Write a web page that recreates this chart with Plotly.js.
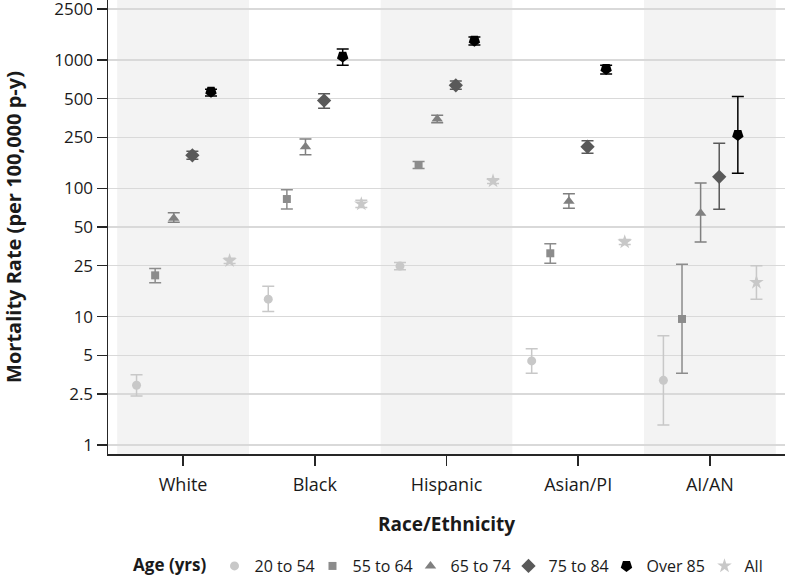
<!DOCTYPE html>
<html>
<head>
<meta charset="utf-8">
<script src="https://cdn.plot.ly/plotly-3.0.1.min.js"></script>
<style>html,body{margin:0;padding:0;background:#fff;}#chart{width:785px;height:577px;}</style>
</head>
<body>
<div id="chart"></div>
<script>
// ---- data ----
const categories = ["White", "Black", "Hispanic", "Asian/PI", "AI/AN"];
const seriesNames = ["20 to 54", "55 to 64", "65 to 74", "75 to 84", "Over 85", "All"];

const rate20to54 = [2.92, 13.7, 24.8, 4.52, 3.19];
const low20to54  = [2.41, 11.0, 23.2, 3.62, 1.43];
const high20to54 = [3.53, 17.3, 26.5, 5.63, 7.11];

const rate55to64 = [21.0, 82.6, 152, 31.2, 9.6];
const low55to64  = [18.4, 69.1, 143, 26.1, 3.62];
const high55to64 = [23.7, 97.7, 162, 37.1, 25.6];

const rate65to74 = [58.5, 211, 347, 79.3, 64];
const low65to74  = [54.5, 183, 325, 70, 38.2];
const high65to74 = [64.7, 243, 371, 91, 110];

const rate75to84 = [181, 483, 636, 211, 123];
const low75to84  = [169, 421, 592, 188, 68.7];
const high75to84 = [195, 547, 687, 235, 225];

const rateOver85 = [567, 1064, 1416, 853, 261];
const lowOver85  = [525, 910, 1312, 780, 131];
const highOver85 = [592, 1222, 1514, 911, 519];

const rateAll = [27.3, 75.6, 114, 38.2, 18.5];
const lowAll  = [26.0, 70.8, 109, 36.5, 13.7];
const highAll = [28.6, 80.7, 119, 40.0, 25.0];

const yTickVals = [1, 2.5, 5, 10, 25, 50, 100, 250, 500, 1000, 2500];
const yTickText = ["1", "2.5", "5", "10", "25", "50", "100", "250", "500", "1000", "2500"];

// ---- styling ----
const FONT = "Open Sans, Lato, sans-serif";
const styles = [
  {color: "#c8c8c8", symbol: "circle", size: 9, angle: 0},
  {color: "#8c8c8c", symbol: "square", size: 8, angle: 0},
  {color: "#808080", symbol: "triangle-up", size: 10, angle: 0},
  {color: "#595959", symbol: "diamond", size: 11, angle: 0},
  {color: "#000000", symbol: "pentagon", size: 12, angle: 180},
  {color: "#c8c8c8", symbol: "star", size: 11, angle: 0}
];
const seriesRates = [rate20to54, rate55to64, rate65to74, rate75to84, rateOver85, rateAll];
const seriesLow = [low20to54, low55to64, low65to74, low75to84, lowOver85, lowAll];
const seriesHigh = [high20to54, high55to64, high65to74, high75to84, highOver85, highAll];

const step = 0.1413;
const traces = seriesNames.map((name, s) => {
  const off = (s - 2.5) * step;
  const st = styles[s];
  return {
    type: "scatter",
    mode: "markers",
    name: name,
    x: categories.map((c, i) => i + off),
    y: seriesRates[s],
    text: categories,
    marker: {color: st.color, symbol: st.symbol, size: st.size, angle: st.angle, line: {width: 0}},
    error_y: {
      type: "data", symmetric: false,
      array: seriesRates[s].map((v, i) => seriesHigh[s][i] - v),
      arrayminus: seriesRates[s].map((v, i) => v - seriesLow[s][i]),
      color: st.color, thickness: 1.5, width: 6
    },
    hovertemplate: "%{text}: %{y}<extra>" + name + "</extra>"
  };
});

const shapes = [];
categories.forEach((c, i) => {
  if (i % 2 === 0) {
    shapes.push({type: "rect", xref: "x", yref: "paper", x0: i - 0.5, x1: i + 0.5, y0: 0, y1: 1,
      fillcolor: "#f3f3f3", line: {width: 0}, layer: "below"});
  }
});
shapes.push({type: "line", xref: "paper", yref: "y", x0: 0, x1: 1, y0: 1, y1: 1,
  line: {color: "#8a8a8a", width: 2}, layer: "below"});

const layout = {
  width: 785, height: 577,
  margin: {l: 108, r: 0, t: 0, b: 123},
  paper_bgcolor: "#ffffff", plot_bgcolor: "rgba(0,0,0,0)",
  font: {family: FONT, color: "#1a1a1a", size: 16},
  showlegend: true,
  xaxis: {
    range: [-0.57, 4.57], tickvals: [0, 1, 2, 3, 4], ticktext: categories,
    showgrid: false, zeroline: false, showline: true, linecolor: "#262626", linewidth: 1.5,
    ticks: "outside", ticklen: 10, tickcolor: "#262626", tickwidth: 1.5, ticklabelstandoff: 4,
    tickfont: {family: FONT, size: 18, color: "#1a1a1a"},
    title: {text: "<b>Race/Ethnicity</b>", font: {family: FONT, size: 19, color: "#1a1a1a"}, standoff: 22},
    automargin: false, fixedrange: true
  },
  yaxis: {
    type: "log", range: [Math.log10(0.851), Math.log10(2938)],
    tickvals: yTickVals, ticktext: yTickText,
    showgrid: true, gridcolor: "#d9d9d9", gridwidth: 1.5, zeroline: false,
    showline: true, linecolor: "#262626", linewidth: 1.5,
    ticks: "outside", ticklen: 10, tickcolor: "#262626", tickwidth: 1.5,
    ticklabeloverflow: "allow",
    tickfont: {family: FONT, size: 17, color: "#1a1a1a"},
    title: {text: "<b>Mortality Rate (per 100,000 p-y)</b>", font: {family: FONT, size: 20, color: "#1a1a1a"}, standoff: 37},
    automargin: false, fixedrange: true
  },
  legend: {
    orientation: "h", xref: "container", yref: "container",
    x: 0.167, xanchor: "left", y: 0.019, yanchor: "middle",
    title: {text: "<b>Age (yrs)</b>", side: "left", font: {family: FONT, size: 17, color: "#1a1a1a"}},
    font: {family: FONT, size: 16, color: "#1a1a1a"},
    bgcolor: "rgba(0,0,0,0)", entrywidth: 53, entrywidthmode: "pixels", tracegroupgap: 0
  },
  shapes: shapes
};

Plotly.newPlot("chart", traces, layout, {displayModeBar: false, staticPlot: true});
</script>
</body>
</html>
